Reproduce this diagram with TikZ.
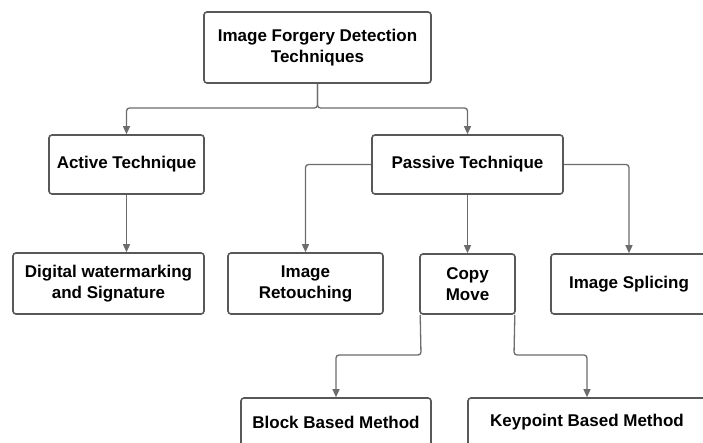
\documentclass[tikz,border=0pt]{standalone}
\usepackage{fontspec}
\setmainfont{Liberation Sans}
\usepackage{xcolor}
\definecolor{boxgray}{RGB}{88, 88, 88}
\definecolor{linegray}{RGB}{108, 108, 108}
\usepackage{tikz}
\usetikzlibrary{
  arrows.meta,
  positioning,
  calc
}

\begin{document}
\begin{tikzpicture}[x=1pt, y=-1pt,
  box/.style={draw=boxgray, line width=1.6pt, rounded corners=3pt, fill=white, align=center, inner sep=0pt, font=\fontsize{17}{21}\selectfont\bfseries},
  link/.style={draw=linegray, line width=1.3pt, rounded corners=3pt, -{Triangle[length=8pt, width=7pt]}}]

  % page frame, the lower and right boxes run off the edge
  \useasboundingbox (0, 0) rectangle (703, 443);
  \clip (0, 0) rectangle (703, 443);

  % root
  \node[box, minimum width=227pt, minimum height=71pt] (root) at (317.5, 47.5) {Image Forgery Detection\\Techniques};

  % the two families
  \node[box, minimum width=155pt, minimum height=59pt] (active) at (126.5, 164.5) {Active Technique};
  \node[box, minimum width=191pt, minimum height=59pt] (passive) at (467.5, 164.5) {Passive Technique};

  % second level
  \node[box, minimum width=191pt, minimum height=61pt] (digital) at (108.5, 283.5) {Digital watermarking\\and Signature};
  \node[box, minimum width=155pt, minimum height=61pt] (retouch) at (305.5, 283.5) {Image\\Retouching};
  \node[box, minimum width=95pt, minimum height=60pt] (cm) at (467.5, 284) {Copy\\Move};
  \node[box, minimum width=156pt, minimum height=60pt] (splice) at (629, 284) {Image Splicing};

  % copy-move methods
  \node[box, minimum width=190pt, minimum height=48pt] (block) at (336, 422) {Block Based Method};
  \node[box, minimum width=238pt, minimum height=48pt] (keypt) at (587, 422) {Keypoint Based Method};

  % bend points
  \coordinate (fork) at (317.5, 108);
  \coordinate (cmleft) at (421, 355);
  \coordinate (cmright) at (514, 355);

  % root to families
  \draw[link] (root.south) -- (fork) -| (active.north);
  \draw[link] (root.south) -- (fork) -| (passive.north);

  % active branch
  \draw[link] (active.south) -- (active.south |- digital.north);

  % passive branch
  \draw[link] (passive.west) -| (retouch.north);
  \draw[link] (passive.south) -- (cm.north);
  \draw[link] (passive.east) -| (splice.north);

  % copy-move branch
  \draw[link] ([xshift=1pt]cm.south west) -- (cmleft) -| (block.north);
  \draw[link] ([xshift=-1pt]cm.south east) -- (cmright) -| (keypt.north);

\end{tikzpicture}
\end{document}
